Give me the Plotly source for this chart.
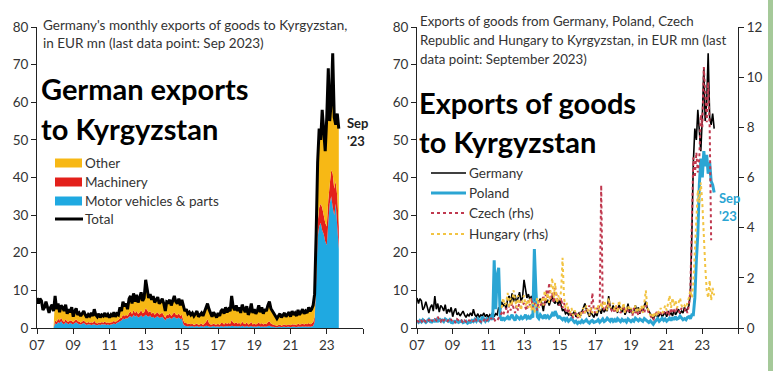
import pandas as pd
import plotly.graph_objects as go

W, H = 773, 371
FONT = "Lato"

months = pd.date_range("2007-01-01", periods=201, freq="MS")

# Germany total exports to Kyrgyzstan, EUR mn (Jan 2007 - Sep 2023)
germany_total = [
    8.0, 6.5, 7.8, 7.2, 4.8, 5.5, 7.0, 5.2, 4.0, 5.5, 6.2, 4.5,
    8.5, 5.0, 6.5, 4.2, 6.0, 5.5, 4.5, 6.2, 3.8, 5.0, 4.2, 5.5,
    3.0, 4.5, 5.2, 3.5, 4.0, 3.2, 3.8, 4.5, 3.5, 2.8, 3.6, 3.2,
    4.0, 3.2, 5.0, 3.5, 3.0, 3.8, 2.8, 3.5, 3.2, 4.0, 3.0, 3.6,
    2.8, 3.5, 3.0, 4.2, 3.0, 3.8, 3.5, 5.5, 4.5, 7.0, 5.8, 6.5,
    5.0, 7.8, 8.5, 6.5, 9.2, 7.0, 8.8, 6.8, 8.0, 9.5, 7.2, 8.0,
    12.8, 10.5, 8.0, 9.0, 7.5, 8.5, 6.8, 7.5, 8.2, 6.5, 7.0, 7.8,
    6.5, 4.5, 7.0, 6.8, 7.5, 6.0, 7.2, 8.5, 7.0, 6.5, 7.8, 6.0,
    7.5, 6.0, 4.5, 5.0, 3.8, 4.2, 3.5, 4.0, 3.2, 3.8, 4.5, 3.0,
    3.5, 4.0, 3.2, 4.5, 5.5, 6.5, 5.0, 3.8, 3.0, 4.2, 3.5, 2.8,
    4.0, 3.2, 4.5, 5.0, 3.8, 5.5, 4.2, 5.0, 4.5, 8.5, 5.5, 4.8,
    6.0, 4.5, 5.5, 4.0, 6.2, 5.0, 4.2, 5.8, 3.5, 4.5, 6.5, 4.0,
    5.0, 3.8, 4.5, 6.0, 4.2, 5.5, 3.8, 5.0, 4.5, 6.0, 7.0, 5.2,
    4.5, 3.5, 3.0, 2.5, 3.2, 3.8, 2.8, 3.5, 4.0, 3.0, 3.5, 4.2,
    3.0, 4.5, 3.5, 4.0, 3.2, 4.8, 3.5, 4.2, 5.0, 3.8, 4.5, 4.0,
    5.5, 4.5, 5.0, 6.0, 9.0, 25.0, 44.0, 53.0, 50.0, 58.0, 52.0, 47.0,
    56.0, 69.0, 55.0, 60.0, 73.0, 56.0, 54.0, 57.0, 53.0,
]

# Components (data start Jan 2008)
motor_vehicles = [None] * 12 + [
    1.2, 1.0, 1.5, 1.3, 1.8, 1.2, 1.0, 1.5, 1.2, 1.0, 1.4, 1.1,
    1.0, 1.3, 1.5, 1.2, 1.0, 0.9, 1.1, 1.3, 1.0, 0.8, 1.0, 0.9,
    0.8, 0.9, 1.0, 0.8, 0.7, 0.9, 0.8, 1.0, 0.9, 1.0, 0.8, 0.9,
    0.8, 0.9, 1.0, 1.2, 1.0, 1.3, 1.5, 1.8, 2.0, 2.5, 2.3, 2.6,
    2.5, 3.0, 3.2, 2.8, 3.5, 3.0, 3.3, 2.8, 3.0, 3.4, 2.9, 3.1,
    3.5, 3.2, 3.0, 3.3, 2.8, 3.0, 2.6, 2.9, 3.1, 2.7, 2.8, 3.0,
    2.5, 2.0, 2.6, 2.5, 2.8, 2.4, 2.7, 3.0, 2.6, 2.5, 2.8, 2.4,
    2.5, 1.0, 0.6, 0.5, 0.4, 0.5, 0.4, 0.5, 0.3, 0.4, 0.5, 0.3,
    0.4, 0.5, 0.3, 0.4, 0.6, 0.5, 0.4, 0.3, 0.4, 0.5, 0.3, 0.4,
    0.4, 0.3, 0.5, 0.4, 0.3, 0.5, 0.4, 0.5, 0.4, 0.6, 0.5, 0.4,
    0.5, 0.4, 0.5, 0.3, 0.6, 0.4, 0.3, 0.5, 0.3, 0.4, 0.5, 0.3,
    0.4, 0.3, 0.4, 0.5, 0.3, 0.4, 0.3, 0.4, 0.3, 0.5, 0.6, 0.4,
    0.3, 0.3, 0.2, 0.2, 0.3, 0.3, 0.2, 0.3, 0.3, 0.2, 0.3, 0.3,
    0.2, 0.3, 0.3, 0.3, 0.2, 0.4, 0.3, 0.3, 0.4, 0.3, 0.4, 0.3,
    0.4, 0.3, 0.4, 0.5, 1.5, 12.0, 24.0, 27.0, 28.0, 26.0, 25.0, 23.0,
    22.0, 28.0, 33.0, 35.0, 32.0, 30.0, 33.0, 27.0, 21.0,
]

machinery = [None] * 12 + [
    0.8, 0.6, 1.0, 0.7, 0.9, 0.8, 0.6, 0.9, 0.5, 0.7, 0.6, 0.8,
    0.5, 0.7, 0.8, 0.6, 0.7, 0.5, 0.6, 0.7, 0.6, 0.5, 0.6, 0.5,
    0.7, 0.5, 0.9, 0.6, 0.5, 0.6, 0.5, 0.6, 0.5, 0.7, 0.5, 0.6,
    0.5, 0.6, 0.5, 0.7, 0.5, 0.6, 0.6, 0.8, 0.7, 1.0, 0.8, 0.9,
    0.7, 1.0, 1.2, 0.9, 1.3, 1.0, 1.2, 0.9, 1.1, 1.3, 1.0, 1.1,
    1.8, 1.5, 1.1, 1.2, 1.0, 1.2, 0.9, 1.0, 1.1, 0.9, 1.0, 1.1,
    0.9, 0.7, 1.0, 0.9, 1.1, 0.8, 1.0, 1.2, 1.0, 0.9, 1.1, 0.8,
    1.0, 0.9, 0.7, 0.8, 0.6, 0.7, 0.6, 0.6, 0.5, 0.6, 0.7, 0.5,
    0.6, 0.7, 0.5, 0.8, 1.0, 1.8, 0.9, 0.6, 0.5, 0.7, 0.6, 0.5,
    0.7, 0.5, 0.8, 0.9, 0.6, 0.9, 0.7, 0.8, 0.7, 1.5, 0.9, 0.8,
    1.0, 0.7, 0.9, 0.6, 1.1, 0.8, 0.7, 1.0, 0.6, 0.7, 1.1, 0.6,
    0.8, 0.6, 0.7, 1.0, 0.7, 0.9, 0.6, 0.8, 0.7, 1.0, 1.2, 0.8,
    0.7, 0.5, 0.5, 0.4, 0.5, 0.6, 0.4, 0.5, 0.6, 0.5, 0.5, 0.7,
    0.5, 0.7, 0.6, 0.6, 0.5, 0.8, 0.6, 0.7, 0.8, 0.6, 0.7, 0.7,
    0.9, 0.7, 0.8, 1.0, 1.5, 2.5, 4.0, 5.0, 5.0, 6.0, 5.0, 5.0,
    5.0, 6.0, 5.0, 7.0, 9.0, 7.0, 6.0, 8.0, 6.0,
]

other = [None] * 12 + [
    6.5, 3.4, 4.0, 2.2, 3.3, 3.5, 2.9, 3.8, 2.1, 3.3, 2.2, 3.6,
    1.5, 2.5, 2.9, 1.7, 2.3, 1.8, 2.1, 2.5, 1.9, 1.5, 2.0, 1.8,
    2.5, 1.8, 3.1, 2.1, 1.8, 2.3, 1.5, 1.9, 1.8, 2.3, 1.7, 2.1,
    1.5, 2.0, 1.5, 2.3, 1.5, 1.9, 1.4, 2.9, 1.8, 3.5, 2.7, 3.0,
    1.8, 3.8, 4.1, 2.8, 4.4, 3.0, 4.3, 3.1, 3.9, 4.8, 3.3, 3.8,
    7.5, 5.8, 3.9, 4.5, 3.7, 4.3, 3.3, 3.6, 4.0, 2.9, 3.2, 3.7,
    3.1, 1.8, 3.4, 3.4, 3.6, 2.8, 3.5, 4.3, 3.4, 3.1, 3.9, 2.8,
    4.0, 4.1, 3.2, 3.7, 2.8, 3.0, 2.5, 2.9, 2.4, 2.8, 3.3, 2.2,
    2.5, 2.8, 2.4, 3.3, 3.9, 4.2, 3.7, 2.9, 2.1, 3.0, 2.6, 1.9,
    2.9, 2.4, 3.2, 3.7, 2.9, 4.1, 3.1, 3.7, 3.4, 6.4, 4.1, 3.6,
    4.5, 3.4, 4.1, 3.1, 4.5, 3.8, 3.2, 4.3, 2.6, 3.4, 4.9, 3.1,
    3.8, 2.9, 3.4, 4.5, 3.2, 4.2, 2.9, 3.8, 3.5, 4.5, 5.2, 4.0,
    3.5, 2.7, 2.3, 1.9, 2.4, 2.9, 2.2, 2.7, 3.1, 2.3, 2.7, 3.2,
    2.3, 3.5, 2.6, 3.1, 2.5, 3.6, 2.6, 3.2, 3.8, 2.9, 3.4, 3.0,
    4.2, 3.5, 3.8, 4.5, 6.0, 10.5, 16.0, 21.0, 17.0, 26.0, 22.0, 19.0,
    29.0, 35.0, 17.0, 18.0, 32.0, 19.0, 15.0, 22.0, 26.0,
]

# Poland exports to Kyrgyzstan, EUR mn (lhs)
poland = [
    1.8, 1.5, 2.0, 1.6, 2.2, 1.8, 1.5, 1.9, 2.3, 1.7, 1.6, 2.0,
    1.8, 2.2, 1.6, 2.5, 1.9, 2.1, 1.7, 2.4, 2.0, 1.8, 2.2, 1.5,
    1.4, 1.8, 1.6, 2.0, 1.5, 1.7, 1.9, 1.4, 1.6, 1.8, 1.3, 1.6,
    1.5, 2.0, 1.7, 2.3, 1.8, 2.5, 2.0, 1.6, 3.0, 2.2, 1.8, 2.4,
    2.0, 2.5, 3.0, 2.2, 18.0, 5.0, 14.0, 16.0, 3.0, 2.0, 2.8, 2.2,
    2.5, 3.0, 2.2, 2.8, 3.5, 2.6, 2.0, 3.2, 2.7, 2.4, 3.0, 2.5,
    2.8, 3.5, 2.6, 3.0, 2.4, 3.2, 2.8, 21.0, 10.0, 3.0, 2.5, 3.5,
    3.0, 2.5, 3.5, 2.8, 3.2, 2.6, 3.0, 3.8, 3.2, 4.5, 3.5, 2.8,
    3.0, 2.5, 2.2, 2.8, 2.0, 2.5, 1.8, 2.2, 2.6, 2.0, 1.5, 1.8,
    1.2, 1.6, 1.4, 2.0, 1.5, 1.8, 2.2, 1.6, 1.3, 1.8, 2.0, 1.5,
    1.6, 1.8, 2.2, 1.5, 1.9, 2.4, 1.7, 2.0, 2.6, 2.2, 1.8, 2.5,
    1.8, 2.2, 1.6, 2.5, 2.0, 1.7, 2.3, 1.9, 2.1, 1.6, 2.4, 2.0,
    1.7, 2.1, 1.8, 2.6, 2.2, 1.9, 2.4, 2.0, 1.8, 2.5, 2.2, 1.7,
    1.5, 1.9, 1.4, 1.0, 1.6, 2.0, 2.5, 1.8, 2.2, 2.6, 2.0, 2.4,
    1.8, 2.3, 2.6, 2.0, 2.8, 2.2, 3.0, 2.4, 2.6, 3.2, 2.5, 2.2,
    2.5, 2.2, 2.8, 3.0, 2.5, 3.5, 3.5, 8.0, 18.0, 25.0, 38.0, 45.0,
    40.0, 47.0, 43.0, 46.0, 41.0, 44.0, 39.0, 38.0, 36.0,
]

# Czech Republic exports to Kyrgyzstan, EUR mn (rhs)
czech = [
    0.3, 0.25, 0.35, 0.3, 0.2, 0.3, 0.25, 0.35, 0.3, 0.4, 0.3, 0.25,
    0.35, 0.3, 0.45, 0.3, 0.25, 0.4, 0.3, 0.35, 0.25, 0.3, 0.4, 0.3,
    0.25, 0.3, 0.2, 0.35, 0.3, 0.25, 0.3, 0.2, 0.3, 0.25, 0.35, 0.3,
    0.3, 0.35, 0.25, 0.4, 0.3, 0.35, 0.3, 0.25, 0.35, 0.3, 0.4, 0.3,
    0.35, 0.3, 0.4, 0.3, 0.35, 0.25, 0.3, 0.4, 0.45, 0.6, 0.5, 0.7,
    0.8, 0.6, 0.9, 0.7, 1.0, 0.8, 0.6, 0.9, 0.7, 1.1, 0.8, 0.9,
    1.0, 0.8, 0.7, 1.1, 0.9, 1.2, 0.8, 1.0, 0.9, 0.7, 1.1, 0.9,
    1.0, 1.3, 0.9, 1.5, 1.2, 1.8, 1.1, 1.4, 1.0, 1.6, 1.2, 1.0,
    0.9, 1.2, 0.8, 1.0, 0.7, 0.6, 0.8, 0.5, 0.6, 0.4, 0.5, 0.6,
    0.4, 0.5, 0.6, 0.5, 0.7, 0.6, 0.8, 0.7, 0.9, 0.6, 1.4, 0.7,
    0.6, 0.8, 0.7, 1.0, 5.7, 0.9, 0.7, 0.8, 0.9, 1.0, 0.8, 0.7,
    0.8, 0.6, 0.9, 0.7, 0.8, 0.6, 0.7, 0.9, 0.6, 0.8, 0.7, 0.6,
    0.7, 0.5, 0.8, 0.6, 0.7, 0.5, 0.6, 0.8, 0.7, 0.6, 0.9, 0.7,
    0.6, 0.5, 0.4, 0.3, 0.5, 0.6, 0.5, 0.7, 0.6, 0.5, 0.6, 0.7,
    0.6, 0.7, 0.5, 0.8, 0.6, 0.7, 0.6, 0.8, 0.7, 0.6, 0.8, 0.7,
    0.7, 0.8, 0.6, 0.9, 1.5, 4.0, 6.8, 6.0, 7.0, 6.2, 6.8, 8.5,
    8.0, 10.4, 9.0, 8.2, 9.8, 8.0, 3.5, None, None,
]

# Hungary exports to Kyrgyzstan, EUR mn (rhs)
hungary = [None] * 57 + [
    0.8, 1.2, 0.9,
    1.0, 1.4, 0.8, 1.2, 0.9, 1.5, 1.1, 0.8, 1.3, 1.0, 0.7, 1.1,
    1.3, 0.9, 1.1, 0.8, 1.2, 0.7, 1.0, 0.6, 0.9, 1.2, 0.8, 1.0,
    1.2, 0.9, 1.5, 1.1, 1.4, 1.0, 1.6, 2.0, 1.2, 1.8, 1.0, 1.3,
    1.1, 1.5, 2.8, 1.2, 0.8, 1.0, 0.7, 0.6, 0.8, 0.5, 0.7, 0.6,
    0.5, 0.6, 0.4, 0.7, 0.8, 0.6, 0.9, 0.7, 0.5, 0.8, 0.6, 0.7,
    0.8, 0.6, 0.9, 0.7, 1.0, 0.8, 1.1, 0.9, 0.7, 1.2, 0.8, 0.9,
    1.0, 0.7, 0.9, 0.6, 1.1, 0.8, 0.7, 1.0, 0.6, 0.8, 0.9, 0.7,
    0.8, 0.6, 0.7, 0.9, 0.6, 0.8, 0.7, 0.9, 0.6, 1.0, 1.5, 0.8,
    0.7, 0.5, 0.6, 0.4, 0.6, 0.5, 0.7, 0.6, 0.8, 0.6, 0.7, 0.9,
    0.7, 1.0, 1.3, 0.8, 1.2, 0.9, 1.1, 0.8, 1.0, 1.2, 0.9, 0.8,
    0.9, 0.8, 1.0, 1.2, 1.5, 1.2, 1.8, 3.0, 4.5, 5.5, 5.0, 5.8,
    5.0, 3.5, 2.5, 1.5, 1.2, 1.9, 1.1, 1.6, 1.3,
]

tick_vals = ["2007-01-01", "2009-01-01", "2011-01-01", "2013-01-01", "2015-01-01",
             "2017-01-01", "2019-01-01", "2021-01-01", "2023-01-01", "2025-01-01"]
tick_text = ["07", "09", "11", "13", "15", "17", "19", "21", "23", ""]
lhs_ticks = [0, 10, 20, 30, 40, 50, 60, 70, 80]
rhs_ticks = [0, 2, 4, 6, 8, 10, 12]

C_OTHER = "#F7B815"
C_MACH = "#E3201B"
C_MV = "#1FA9E1"
C_POL = "#2BA5D3"
C_CZ = "#C0394F"
C_HU = "#F2C443"
TXT = "#333333"


def px(x):
    return x / W


def py(y):
    return 1 - y / H


fig = go.Figure()

# Left chart: stacked areas
for name, vals, col in [("Motor vehicles & parts", motor_vehicles, C_MV),
                        ("Machinery", machinery, C_MACH),
                        ("Other", other, C_OTHER)]:
    fig.add_trace(go.Scatter(x=months, y=vals, name=name, stackgroup="one",
                             mode="none", fillcolor=col, xaxis="x", yaxis="y",
                             showlegend=False))
fig.add_trace(go.Scatter(x=months, y=germany_total, name="Total", mode="lines",
                         line=dict(color="black", width=3), xaxis="x", yaxis="y",
                         showlegend=False))

# Right chart
fig.add_trace(go.Scatter(x=months, y=germany_total, name="Germany", mode="lines",
                         line=dict(color="black", width=1.6), xaxis="x2", yaxis="y2",
                         showlegend=False))
fig.add_trace(go.Scatter(x=months, y=poland, name="Poland", mode="lines",
                         line=dict(color=C_POL, width=3), xaxis="x2", yaxis="y2",
                         showlegend=False))
fig.add_trace(go.Scatter(x=months, y=czech, name="Czech (rhs)", mode="lines",
                         line=dict(color=C_CZ, width=2, dash="dot"), xaxis="x2", yaxis="y3",
                         showlegend=False))
fig.add_trace(go.Scatter(x=months, y=hungary, name="Hungary (rhs)", mode="lines",
                         line=dict(color=C_HU, width=2, dash="dot"), xaxis="x2", yaxis="y3",
                         showlegend=False))

y_dom = [py(328), py(27)]
xcommon = dict(type="date", range=["2007-01-01", "2025-01-01"], tickvals=tick_vals,
               ticktext=tick_text, showline=True, linecolor="#222", linewidth=1,
               ticks="outside", ticklen=5, tickcolor="#222", showgrid=False,
               zeroline=False, automargin=False,
               tickfont=dict(family=FONT, size=13.5, color=TXT))
ycommon = dict(showline=True, linecolor="#222", linewidth=1, ticks="outside",
               ticklen=5, tickcolor="#222", showgrid=False, zeroline=False,
               automargin=False,
               tickfont=dict(family=FONT, size=13.5, color=TXT), domain=y_dom)

fig.update_layout(
    width=W, height=H, autosize=False,
    margin=dict(l=0, r=0, t=0, b=0, pad=0),
    paper_bgcolor="white", plot_bgcolor="white",
    showlegend=False,
    xaxis=dict(xcommon, domain=[px(37), px(363)], anchor="y"),
    yaxis=dict(ycommon, range=[0, 80], tickvals=lhs_ticks, anchor="x"),
    xaxis2=dict(xcommon, domain=[px(417), px(738)], anchor="y2"),
    yaxis2=dict(ycommon, range=[0, 80], tickvals=lhs_ticks, anchor="x2"),
    yaxis3=dict(ycommon, range=[0, 12], tickvals=rhs_ticks, anchor="x2",
                overlaying="y2", side="right"),
)

shapes = []
annotations = []


def text(x, y, s, size=13, bold=False, color=TXT, anchor="left"):
    annotations.append(dict(x=px(x), y=py(y), xref="paper", yref="paper", text=s,
                            showarrow=False, xanchor=anchor, yanchor="middle",
                            align="left",
                            font=dict(family=FONT, size=size, color=color,
                                      weight="bold" if bold else "normal")))


# Left chart texts
text(41, 25, "Germany's monthly exports of goods to Kyrgyzstan,", 13.5)
text(41, 43, "in EUR mn (last data point: Sep 2023)", 13.5)
text(39, 88, "German exports", 29, bold=True, color="black")
text(39, 128, "to Kyrgyzstan", 29, bold=True, color="black")
for yy, col, lab in [(163, C_OTHER, "Other"), (182, C_MACH, "Machinery"),
                     (201, C_MV, "Motor vehicles & parts")]:
    shapes.append(dict(type="rect", xref="paper", yref="paper", x0=px(55), x1=px(82),
                       y0=py(yy + 4.5), y1=py(yy - 4.5), fillcolor=col, line=dict(width=0)))
    text(83, yy, lab, 13.5)
shapes.append(dict(type="line", xref="paper", yref="paper", x0=px(55), x1=px(83),
                   y0=py(219), y1=py(219), line=dict(color="black", width=3)))
text(83, 219, "Total", 13.5)
text(345, 123, "Sep", 13, bold=True, color="#222")
text(345, 141, "'23", 13, bold=True, color="#222")

# Right chart texts
text(418, 21, "Exports of goods from Germany, Poland, Czech", 13.3)
text(418, 40, "Republic and Hungary to Kyrgyzstan, in EUR mn (last", 13.3)
text(418, 59, "data point: September 2023)", 13.3)
text(417, 102, "Exports of goods", 29, bold=True, color="black")
text(417, 141, "to Kyrgyzstan", 29, bold=True, color="black")
shapes.append(dict(type="line", xref="paper", yref="paper", x0=px(431), x1=px(466),
                   y0=py(173), y1=py(173), line=dict(color="black", width=1.6)))
shapes.append(dict(type="line", xref="paper", yref="paper", x0=px(431), x1=px(466),
                   y0=py(193), y1=py(193), line=dict(color=C_POL, width=3)))
shapes.append(dict(type="line", xref="paper", yref="paper", x0=px(431), x1=px(466),
                   y0=py(213), y1=py(213), line=dict(color=C_CZ, width=2, dash="dot")))
shapes.append(dict(type="line", xref="paper", yref="paper", x0=px(431), x1=px(466),
                   y0=py(234), y1=py(234), line=dict(color=C_HU, width=2, dash="dot")))
text(467, 173, "Germany", 13.5)
text(467, 193, "Poland", 13.5)
text(467, 213, "Czech (rhs)", 13.5)
text(467, 234, "Hungary (rhs)", 13.5)
text(717, 198, "Sep", 13, bold=True, color=C_POL)
text(717, 216, "'23", 13, bold=True, color=C_POL)

# green strip at right edge of the screenshot
shapes.append(dict(type="rect", xref="paper", yref="paper", x0=px(768), x1=1,
                   y0=0, y1=1, fillcolor="#A5C999", line=dict(width=0), layer="below"))

fig.update_layout(shapes=shapes, annotations=annotations)
fig.write_html(
    "out.html",
    include_plotlyjs=True,
    config={"displayModeBar": False},
    post_script="document.body.style.margin='0';document.body.style.padding='0';"
                "document.body.style.overflow='hidden';"
                "document.documentElement.style.overflow='hidden';",
)
